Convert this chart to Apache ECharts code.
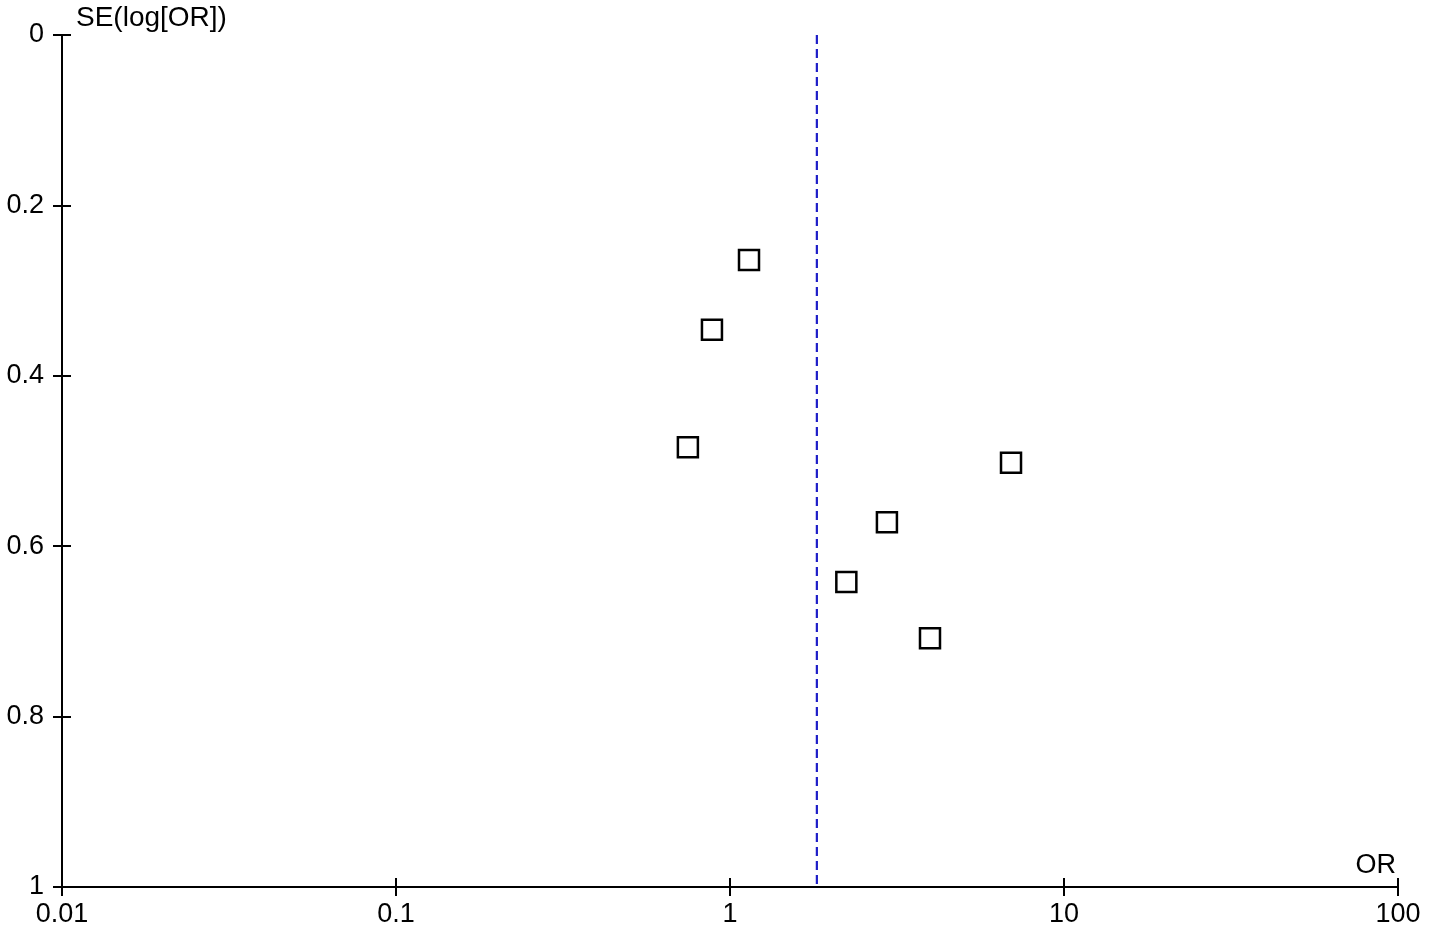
<!DOCTYPE html>
<html>
<head>
<meta charset="utf-8">
<script src="https://cdn.jsdelivr.net/npm/echarts@6/dist/echarts.min.js"></script>
<style>
  html, body { margin: 0; padding: 0; background: #fff; }
  #funnel-chart { width: 1429px; height: 933px; }
</style>
</head>
<body>
<div id="funnel-chart"></div>
<script>
// study estimates: odds ratio and standard error of log(OR)
const studyOR = [1.14, 0.883, 0.748, 6.94, 2.95, 2.23, 3.97];
const studySE = [0.264, 0.346, 0.484, 0.502, 0.572, 0.642, 0.708];
// pooled estimate (vertical dashed line)
const pooledOR = 1.82;
const seRange = [0, 1];
const xTickLabels = ['0.01', '0.1', '1', '10', '100'];
const yTickLabels = ['0', '0.2', '0.4', '0.6', '0.8', '1'];

const font = 'Liberation Sans, Arial, sans-serif';
const gridW = 1429 - 62 - 31;
const gridH = 933 - 35 - 46;
const chart = echarts.init(document.getElementById('funnel-chart'));

function xLabel(v) {
  const i = Math.round(Math.log10(v)) + 2;
  return xTickLabels[i] !== undefined ? xTickLabels[i] : '';
}
function yLabel(v) {
  const i = Math.round(v / 0.2);
  return yTickLabels[i] !== undefined ? yTickLabels[i] : '';
}

const option = {
  animation: false,
  backgroundColor: '#fff',
  grid: { left: 62, right: 31, top: 35, bottom: 46 },
  xAxis: [
    {
      type: 'log',
      logBase: 10,
      min: 0.01,
      max: 100,
      position: 'bottom',
      axisLine: { show: true, onZero: false, lineStyle: { color: '#000', width: 2 } },
      axisTick: { show: true, length: 9, lineStyle: { color: '#000', width: 2 } },
      axisLabel: { color: '#000', fontSize: 27, fontFamily: font, margin: 14, formatter: xLabel },
      splitLine: { show: false },
      minorTick: { show: false }
    },
    {
      // upper half of the crossing ticks: a top axis pulled down onto the bottom edge
      type: 'log',
      logBase: 10,
      min: 0.01,
      max: 100,
      position: 'top',
      offset: -gridH,
      axisLine: { show: false },
      axisTick: { show: true, inside: false, length: 9, lineStyle: { color: '#000', width: 2 } },
      axisLabel: { show: false },
      splitLine: { show: false }
    }
  ],
  yAxis: [
    {
      type: 'value',
      inverse: true,
      min: seRange[0],
      max: seRange[1],
      interval: 0.2,
      position: 'left',
      axisLine: { show: true, onZero: false, lineStyle: { color: '#000', width: 2 } },
      axisTick: { show: true, length: 9, lineStyle: { color: '#000', width: 2 } },
      axisLabel: {
        color: '#000', fontSize: 27, fontFamily: font, margin: 18,
        padding: [6, 0, 0, 0], formatter: yLabel
      },
      splitLine: { show: false }
    },
    {
      // right half of the crossing ticks
      type: 'value',
      inverse: true,
      min: seRange[0],
      max: seRange[1],
      interval: 0.2,
      position: 'right',
      offset: -gridW,
      axisLine: { show: false },
      axisTick: { show: true, inside: false, length: 9, lineStyle: { color: '#000', width: 2 } },
      axisLabel: { show: false },
      splitLine: { show: false }
    }
  ],
  graphic: [
    {
      type: 'text',
      left: 76,
      top: 4,
      style: { text: 'SE(log[OR])', fill: '#000', font: '28px ' + font }
    },
    {
      type: 'text',
      right: 33,
      top: 852,
      style: { text: 'OR', fill: '#000', font: '27px ' + font }
    }
  ],
  series: [
    {
      name: 'pooled',
      type: 'line',
      xAxisIndex: 0,
      yAxisIndex: 0,
      symbol: 'none',
      lineStyle: { color: '#1e1ec8', width: 2.2, type: [9, 5] },
      data: seRange.map(se => [pooledOR, se]),
      z: 1
    },
    {
      name: 'studies',
      type: 'scatter',
      xAxisIndex: 0,
      yAxisIndex: 0,
      symbol: 'rect',
      symbolSize: 20,
      itemStyle: { color: 'rgba(255,255,255,0)', borderColor: '#000', borderWidth: 2.5, opacity: 1 },
      data: studyOR.map((or, i) => [or, studySE[i]]),
      z: 3
    }
  ]
};

chart.setOption(option);
</script>
</body>
</html>
